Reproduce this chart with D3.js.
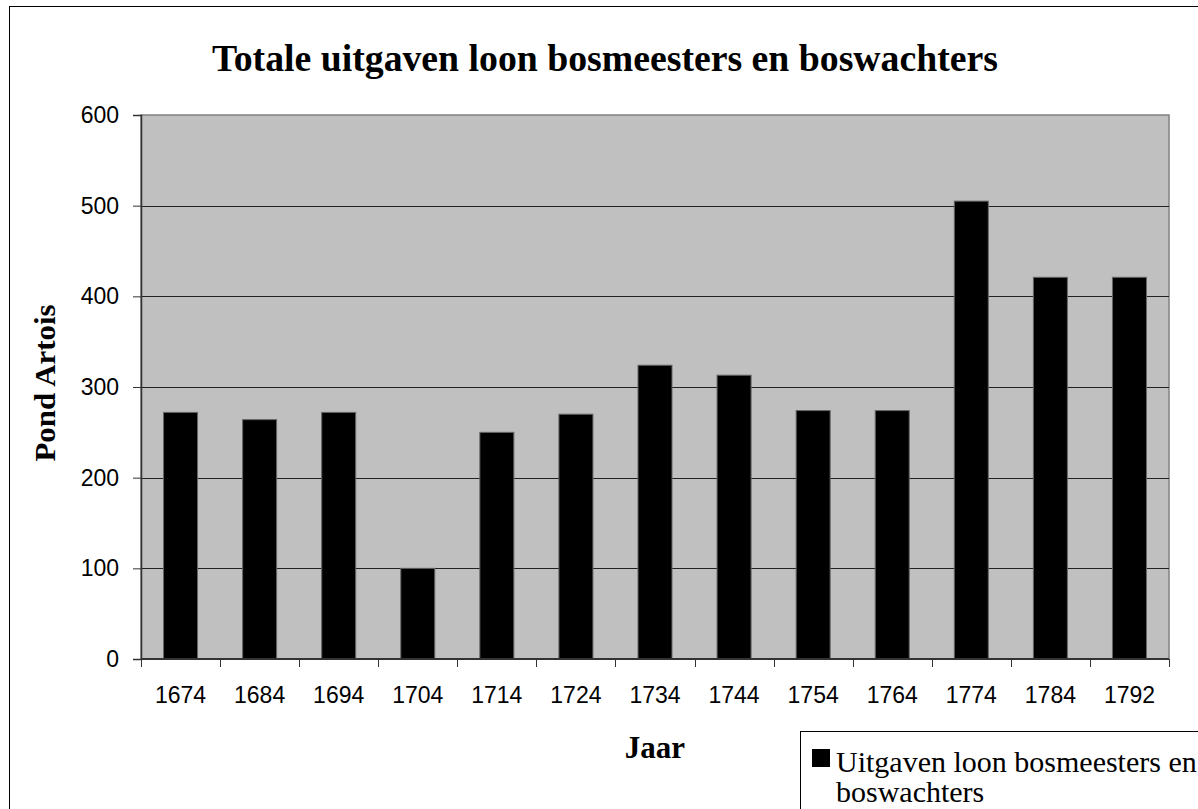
<!DOCTYPE html>
<html>
<head>
<meta charset="utf-8">
<script src="https://cdn.jsdelivr.net/npm/d3@7/dist/d3.min.js"></script>
<style>
  html, body { margin: 0; padding: 0; background: #fff; }
  svg { display: block; }
</style>
</head>
<body>
<svg id="chart" width="1198" height="809"></svg>
<script>
const years = ["1674","1684","1694","1704","1714","1724","1734","1744","1754","1764","1774","1784","1792"];
const values = [272, 264, 272, 100, 250, 270, 324, 313, 274, 274, 505, 421, 421];
const yTicks = [0, 100, 200, 300, 400, 500, 600];
const titleText = "Totale uitgaven loon bosmeesters en boswachters";
const xTitle = "Jaar";
const yTitle = "Pond Artois";
const seriesName = ["Uitgaven loon bosmeesters en", "boswachters"];

const svg = d3.select("#chart");
const plot = { left: 141, right: 1169, top: 115, bottom: 659 };

// outer border
svg.append("rect").attr("x", 9.5).attr("y", 6.5).attr("width", 1200).attr("height", 820)
  .attr("fill", "#fff").attr("stroke", "#000").attr("stroke-width", 1);

const x = d3.scaleBand().domain(years).range([plot.left, plot.right])
  .paddingInner(0.57).paddingOuter(0.285);
const xCat = d3.scaleBand().domain(years).range([plot.left, plot.right]).padding(0);
const y = d3.scaleLinear().domain([0, 600]).range([plot.bottom, plot.top]);

// plot background
svg.append("rect").attr("x", plot.left).attr("y", plot.top)
  .attr("width", plot.right - plot.left).attr("height", plot.bottom - plot.top)
  .attr("fill", "#c0c0c0").attr("stroke", "#808080").attr("stroke-width", 1.5);

// gridlines
svg.append("g").selectAll("line").data(yTicks.filter(d => d > 0 && d < 600)).join("line")
  .attr("x1", plot.left).attr("x2", plot.right)
  .attr("y1", d => Math.round(y(d)) + 0.5).attr("y2", d => Math.round(y(d)) + 0.5)
  .attr("stroke", "#222").attr("stroke-width", 1);

// bars
svg.append("g").selectAll("rect").data(values).join("rect")
  .attr("x", (d, i) => x(years[i]))
  .attr("y", d => y(d))
  .attr("width", x.bandwidth())
  .attr("height", d => y(0) - y(d))
  .attr("fill", "#000").attr("stroke", "#666").attr("stroke-width", 1);

// y axis
const yAxis = d3.axisLeft(y).tickValues(yTicks).tickSize(8).tickPadding(14).tickFormat(d3.format("d"));
const gy = svg.append("g").attr("transform", `translate(${plot.left},0)`).call(yAxis);
gy.attr("font-size", null).attr("font-family", null);
gy.select(".domain").attr("stroke", "#333").attr("stroke-width", 1.5);
gy.selectAll(".tick line").attr("stroke", "#333");
gy.selectAll("text").style("font-family", "'Liberation Sans', Arial, sans-serif")
  .style("font-size", "23px").attr("fill", "#000");

// x axis baseline
svg.append("line").attr("x1", plot.left).attr("x2", plot.right)
  .attr("y1", plot.bottom).attr("y2", plot.bottom)
  .attr("stroke", "#333").attr("stroke-width", 2);

// x ticks at category boundaries
const bounds = years.map(d => xCat(d)).concat([plot.right]);
svg.append("g").selectAll("line").data(bounds).join("line")
  .attr("x1", d => Math.round(d) + 0.5).attr("x2", d => Math.round(d) + 0.5)
  .attr("y1", plot.bottom).attr("y2", plot.bottom + 8)
  .attr("stroke", "#333").attr("stroke-width", 1);

// x labels
svg.append("g").selectAll("text").data(years).join("text")
  .attr("x", d => xCat(d) + xCat.bandwidth() / 2)
  .attr("y", 703)
  .attr("text-anchor", "middle")
  .style("font-family", "'Liberation Sans', Arial, sans-serif")
  .style("font-size", "23px").attr("fill", "#000")
  .text(d => d);

// title
svg.append("text").attr("x", 605).attr("y", 71).attr("text-anchor", "middle")
  .style("font-family", "'Liberation Serif', 'Times New Roman', serif")
  .style("font-weight", "bold").style("font-size", "37px")
  .attr("textLength", 786).attr("lengthAdjust", "spacingAndGlyphs")
  .text(titleText);

// x title
svg.append("text").attr("x", (plot.left + plot.right) / 2).attr("y", 758).attr("text-anchor", "middle")
  .style("font-family", "'Liberation Serif', 'Times New Roman', serif")
  .style("font-weight", "bold").style("font-size", "31px")
  .text(xTitle);

// y title
svg.append("text").attr("transform", "translate(55,383) rotate(-90)").attr("text-anchor", "middle")
  .style("font-family", "'Liberation Serif', 'Times New Roman', serif")
  .style("font-weight", "bold").style("font-size", "30px")
  .attr("textLength", 157).attr("lengthAdjust", "spacingAndGlyphs")
  .text(yTitle);

// legend
const lg = svg.append("g");
lg.append("rect").attr("x", 800.5).attr("y", 731.5).attr("width", 420).attr("height", 100)
  .attr("fill", "#fff").attr("stroke", "#000").attr("stroke-width", 1);
lg.append("rect").attr("x", 812).attr("y", 749).attr("width", 18).attr("height", 18)
  .attr("fill", "#000");
lg.selectAll("text.leg").data(seriesName).join("text").attr("class", "leg")
  .attr("x", 836).attr("y", (d, i) => 772 + i * 30)
  .style("font-family", "'Liberation Serif', 'Times New Roman', serif")
  .style("font-size", "30px").attr("fill", "#000")
  .text(d => d);
</script>
</body>
</html>
